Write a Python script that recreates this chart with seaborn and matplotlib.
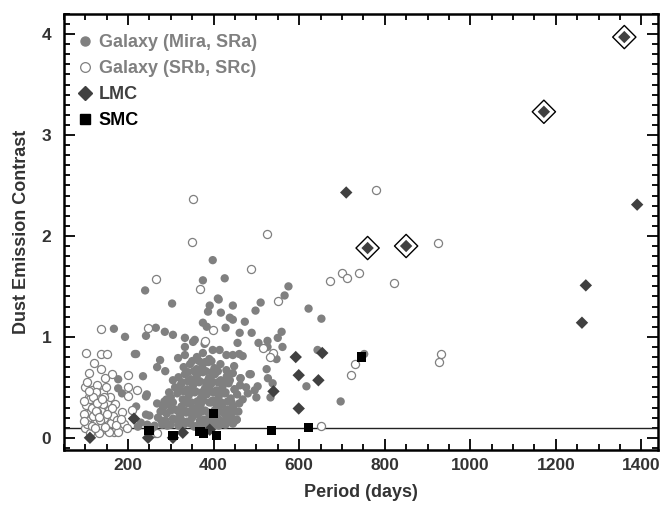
import numpy as np
import pandas as pd
import matplotlib
matplotlib.use("Agg")
import matplotlib.pyplot as plt
from matplotlib.ticker import MultipleLocator
from matplotlib.lines import Line2D
import seaborn as sns

# Galaxy (Mira, SRa) - filled grey circles
mira_period = [
    262, 285, 300, 318, 340, 355, 372, 388, 402, 420, 436, 230, 245,
    250, 270, 290, 305, 322, 336, 350, 364, 378, 392, 410, 425, 440, 454, 278,
    282, 296, 310, 325, 340, 352, 366, 380, 395, 408, 420, 432, 446, 460, 268,
    300, 315, 328, 342, 356, 370, 384, 398, 412, 426, 440, 455, 468, 480, 500, 290,
    310, 324, 338, 352, 366, 380, 394, 407, 421, 435, 449, 462, 476, 496, 503, 538, 320,
    318, 333, 347, 361, 375, 389, 403, 417, 431, 445, 463, 484, 527, 305,
    330, 345, 360, 374, 388, 402, 416, 430, 448, 524, 268, 287,
    275, 317, 333, 361, 375, 390, 398, 414, 430, 445, 460, 468, 547, 216, 643,
    333, 356, 333, 352, 379, 456, 505, 526, 561, 550, 526, 193,
    240, 303, 375, 398, 426, 410, 391, 445, 510, 575, 566, 622, 652, 498,
    265, 286, 305, 242, 167, 473, 445, 428, 375, 384, 461, 489, 559, 417, 438, 387, 412,
    177, 186, 235, 242, 242, 219, 223, 177, 219, 244,
    697, 617, 752, 454, 431, 442, 449, 438, 463, 487, 533, 345, 395, 415, 370,
    # dense core of the cloud
    280, 292, 330, 347, 362, 380, 395, 412, 428, 445,
    288, 312, 326, 338, 368, 384, 400, 416, 432, 448,
    276, 300, 318, 332, 345, 358, 372, 388, 402, 416, 430, 444, 458,
    285, 305, 334, 348, 362, 376, 390, 405, 418, 433,
    296, 330, 344, 358, 372, 386, 400, 414, 428,
    326, 340, 354, 368, 382, 396, 410, 424,
    340, 354, 368, 382, 396, 410, 350, 366, 380, 395,
]
mira_contrast = [
    0.12, 0.14, 0.13, 0.12, 0.15, 0.11, 0.13, 0.15, 0.12, 0.14, 0.16, 0.15, 0.13,
    0.22, 0.20, 0.24, 0.19, 0.22, 0.25, 0.20, 0.23, 0.18, 0.21, 0.19, 0.24, 0.20, 0.18, 0.17,
    0.30, 0.33, 0.28, 0.31, 0.34, 0.29, 0.32, 0.27, 0.35, 0.30, 0.33, 0.28, 0.31, 0.34, 0.34,
    0.40, 0.44, 0.38, 0.42, 0.45, 0.39, 0.43, 0.37, 0.41, 0.44, 0.39, 0.43, 0.38, 0.44, 0.40, 0.38,
    0.50, 0.53, 0.48, 0.52, 0.55, 0.49, 0.53, 0.47, 0.51, 0.54, 0.48, 0.52, 0.50, 0.47, 0.51, 0.54, 0.47,
    0.60, 0.63, 0.58, 0.62, 0.65, 0.59, 0.63, 0.57, 0.61, 0.64, 0.59, 0.63, 0.59, 0.57,
    0.70, 0.73, 0.68, 0.72, 0.75, 0.69, 0.73, 0.67, 0.71, 0.68, 0.70, 0.66,
    0.77, 0.79, 0.82, 0.80, 0.84, 0.78, 0.87, 0.87, 0.82, 0.82, 0.83, 0.81, 0.78, 0.83, 0.87,
    0.90, 0.97, 0.99, 0.95, 0.93, 0.94, 0.94, 0.90, 0.90, 0.99, 0.96, 1.00,
    1.46, 1.33, 1.56, 1.76, 1.58, 1.38, 1.31, 1.31, 1.34, 1.50, 1.41, 1.28, 1.18, 1.26,
    1.09, 1.05, 1.02, 1.01, 1.08, 1.15, 1.17, 1.09, 1.14, 1.10, 1.04, 1.04, 1.05, 1.24, 1.19, 1.25, 1.37,
    0.58, 0.44, 0.61, 0.41, 0.23, 0.31, 0.11, 0.49, 0.83, 0.43,
    0.36, 0.51, 0.83, 0.18, 0.20, 0.35, 0.48, 0.57, 0.59, 0.63, 0.40, 0.26, 0.46, 0.55, 0.33,
    0.13, 0.12, 0.13, 0.14, 0.12, 0.13, 0.14, 0.12, 0.13, 0.14,
    0.17, 0.18, 0.17, 0.16, 0.17, 0.18, 0.16, 0.17, 0.18, 0.16,
    0.26, 0.27, 0.26, 0.27, 0.25, 0.27, 0.26, 0.25, 0.27, 0.26, 0.27, 0.25, 0.26,
    0.36, 0.35, 0.36, 0.35, 0.36, 0.37, 0.35, 0.36, 0.35, 0.36,
    0.45, 0.46, 0.45, 0.46, 0.45, 0.46, 0.45, 0.46, 0.45,
    0.55, 0.56, 0.55, 0.56, 0.55, 0.56, 0.55, 0.56,
    0.65, 0.66, 0.65, 0.66, 0.65, 0.66, 0.76, 0.76, 0.75, 0.76,
]

# Galaxy (SRb, SRc) - open circles
sr_period = [
    100, 105, 110, 102, 108, 115, 100, 120, 125, 118, 130, 122, 135, 128,
    140, 145, 138, 150, 142, 155, 160, 165, 158, 170, 175, 180, 185, 112,
    132, 150, 168, 105, 148, 125, 115, 135, 190, 97, 112, 127, 144, 162,
    137, 102, 137, 151, 121, 109, 137, 163, 146, 200, 200, 221, 200, 209,
    156, 177, 198, 263, 267, 247, 265, 352, 349, 368, 398, 379, 487, 526,
    550, 515, 538, 533, 671, 701, 713, 741, 822, 780, 925, 932, 927, 731,
    722, 652,
    98, 104, 116, 124, 133, 141, 152, 118, 128, 108, 146, 172, 183, 97, 123, 139,
]
sr_contrast = [
    0.10, 0.18, 0.25, 0.32, 0.40, 0.47, 0.50, 0.08, 0.15, 0.22, 0.30, 0.36, 0.42, 0.52,
    0.12, 0.20, 0.27, 0.35, 0.45, 0.28, 0.15, 0.22, 0.40, 0.33, 0.18, 0.10, 0.26, 0.05,
    0.05, 0.08, 0.06, 0.55, 0.50, 0.45, 0.30, 0.18, 0.14, 0.24, 0.38, 0.26, 0.40, 0.30,
    1.08, 0.84, 0.83, 0.83, 0.74, 0.64, 0.68, 0.63, 0.59, 0.62, 0.50, 0.47, 0.41, 0.28,
    0.06, 0.06, 0.10, 0.05, 0.05, 1.09, 1.57, 2.37, 1.94, 1.47, 1.07, 0.96, 1.67, 2.02,
    1.36, 0.89, 0.84, 0.80, 1.55, 1.63, 1.58, 1.63, 1.53, 2.45, 1.93, 0.83, 0.75, 0.73,
    0.62, 0.12,
    0.36, 0.14, 0.12, 0.27, 0.21, 0.33, 0.24, 0.40, 0.34, 0.46, 0.11, 0.13, 0.19, 0.17, 0.10, 0.38,
]

# LMC - dark diamonds
lmc_period = [111, 214, 247, 305, 328, 391, 540, 592, 599, 599, 645, 654,
              710, 760, 850, 1172, 1360, 1261, 1270, 1390]
lmc_contrast = [0.0, 0.19, 0.0, 0.0, 0.05, 0.08, 0.46, 0.80, 0.62, 0.29, 0.57, 0.84,
                2.43, 1.88, 1.90, 3.23, 3.97, 1.14, 1.51, 2.31]

# LMC stars marked with an outer diamond
boxed_period = [760, 850, 1172, 1360]
boxed_contrast = [1.88, 1.90, 3.23, 3.97]

# SMC - black squares
smc_period = [249, 305, 368, 377, 407, 399, 536, 622, 745]
smc_contrast = [0.07, 0.02, 0.06, 0.04, 0.02, 0.24, 0.07, 0.10, 0.80]

sns.set_style("ticks")
plt.rcParams['font.family'] = ['Liberation Sans', 'DejaVu Sans']
plt.rcParams['font.weight'] = 'bold'

GREY = '#808080'
DARK = '#404040'
TEXT = '#333333'

fig = plt.figure(figsize=(6.65, 5.13), dpi=100)
ax = fig.add_axes([0.096, 0.123, 0.893, 0.850])

ax.axhline(0.1, color='#222222', lw=1.0, zorder=1)

sns.scatterplot(x=mira_period, y=mira_contrast, ax=ax, color=GREY, s=36,
                edgecolor='none', zorder=2)
sns.scatterplot(x=sr_period, y=sr_contrast, ax=ax, facecolor='white', s=34,
                edgecolor=GREY, linewidth=0.9, zorder=3)
sns.scatterplot(x=lmc_period, y=lmc_contrast, ax=ax, marker='D', color=DARK, s=40,
                edgecolor='none', zorder=4)
sns.scatterplot(x=boxed_period, y=boxed_contrast, ax=ax, marker='D', facecolor='none',
                s=140, edgecolor='black', linewidth=1.0, zorder=4)
sns.scatterplot(x=smc_period, y=smc_contrast, ax=ax, marker='s', color='black', s=44,
                edgecolor='none', zorder=5)

ax.set_xlim(50, 1438)
ax.set_ylim(-0.12, 4.2)
ax.xaxis.set_major_locator(MultipleLocator(200))
ax.xaxis.set_minor_locator(MultipleLocator(50))
ax.yaxis.set_major_locator(MultipleLocator(1))
ax.yaxis.set_minor_locator(MultipleLocator(0.1))
ax.tick_params(which='both', direction='in', top=True, right=True, width=1.3,
               colors='black', labelcolor=TEXT, labelsize=12.5)
ax.tick_params(axis='x', which='both', pad=6)
ax.tick_params(axis='y', which='both', pad=9)
ax.tick_params(which='major', length=8)
ax.tick_params(which='minor', length=4)
for lab in ax.get_xticklabels() + ax.get_yticklabels():
    lab.set_fontweight('bold')
for sp in ax.spines.values():
    sp.set_linewidth(1.8)
    sp.set_color('black')

ax.set_xlabel('Period (days)', fontsize=13, fontweight='bold', color=TEXT, labelpad=8)
ax.set_ylabel('Dust Emission Contrast', fontsize=13, fontweight='bold', color=TEXT, labelpad=8)

handles = [
    Line2D([], [], marker='o', ls='none', color=GREY, markersize=6.5),
    Line2D([], [], marker='o', ls='none', markerfacecolor='white', markeredgecolor=GREY,
           markersize=7, markeredgewidth=0.9),
    Line2D([], [], marker='D', ls='none', color=DARK, markersize=7.5),
    Line2D([], [], marker='s', ls='none', color='black', markersize=7),
]
labels = ['Galaxy (Mira, SRa)', 'Galaxy (SRb, SRc)', 'LMC', 'SMC']
leg = ax.legend(handles, labels, loc='upper left', frameon=False, fontsize=13,
                handlelength=0.6, handletextpad=0.45, labelspacing=0.5,
                borderaxespad=0.0, bbox_to_anchor=(0.015, 0.97))
for txt, c in zip(leg.get_texts(), [GREY, GREY, DARK, 'black']):
    txt.set_color(c)
    txt.set_fontweight('bold')

fig.savefig('out.png', dpi=100)
